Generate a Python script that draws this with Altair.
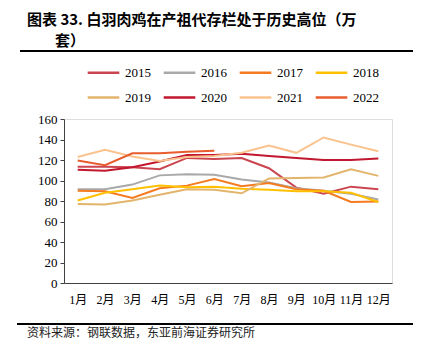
import altair as alt
import pandas as pd

months = ["1月", "2月", "3月", "4月", "5月", "6月", "7月", "8月", "9月", "10月", "11月", "12月"]
years = ["2015", "2016", "2017", "2018", "2019", "2020", "2021", "2022"]
v2015 = [113.5, 113.5, 113, 111, 122, 121, 122, 112, 93, 87, 94, 91.5]
v2016 = [91.5, 91.5, 96, 105, 106, 105.5, 101, 98, 92.5, 90, 87, 81.5]
v2017 = [90, 89.5, 83, 92.5, 95, 101.5, 94.5, 97.5, 91.5, 90, 79, 79.5]
v2018 = [80.5, 88, 91.5, 95, 93.5, 94, 92, 91, 89.5, 89.5, 88, 79]
v2019 = [77, 76.5, 80.5, 86, 91.5, 91, 87.5, 102, 102.5, 103, 111, 104.5]
v2020 = [110.5, 109.5, 113, 118.5, 125, 125, 126, 124, 122, 120, 120, 121.5]
v2021 = [123, 130, 123.5, 119, 123, 124, 127, 134, 127, 142, 135, 128.5]
v2022 = [119.5, 115, 126.5, 126.5, 128, 129]
colors = ["#CB4550", "#A9A9A9", "#F47B20", "#FFC000", "#E3B56C", "#C1172F", "#FAC38E", "#E85C2E"]
title_line1 = "图表 33. 白羽肉鸡在产祖代存栏处于历史高位（万"
title_line2 = "套）"
source_text = "资料来源：钢联数据，东亚前海证券研究所"

series = [v2015, v2016, v2017, v2018, v2019, v2020, v2021, v2022]
rows = []
for y, vals in zip(years, series):
    for m, v in zip(months, vals):
        rows.append({"month": m, "year": y, "value": v})
df = pd.DataFrame(rows)

SERIF = "Liberation Serif, Noto Sans CJK SC"
CJK = "Noto Sans CJK SC"

lines = alt.Chart(df).mark_line(strokeWidth=2).encode(
    x=alt.X("month:O", sort=months,
            scale=alt.Scale(type="point", padding=0.5),
            axis=alt.Axis(title=None, labelAngle=0, ticks=False, domainColor="#404040",
                          labelFont=SERIF, labelFontSize=12, labelColor="#000000",
                          labelPadding=11)),
    y=alt.Y("value:Q", scale=alt.Scale(domain=[0, 160]),
            axis=alt.Axis(title=None, values=[0, 20, 40, 60, 80, 100, 120, 140, 160],
                          grid=False, tickSize=4, tickColor="#404040", domainColor="#404040",
                          labelFont=SERIF, labelFontSize=13, labelColor="#000000",
                          labelPadding=3)),
    color=alt.Color("year:N", scale=alt.Scale(domain=years, range=colors),
                    legend=alt.Legend(title=None, orient="none", legendX=22, legendY=-64,
                                      direction="horizontal", columns=4,
                                      symbolType="stroke", symbolSize=1000,
                                      symbolStrokeWidth=2.5, labelFont=SERIF,
                                      labelFontSize=13, labelColor="#000000",
                                      labelOffset=4, columnPadding=7, rowPadding=-17)),
    detail="year:N",
)

title1 = alt.Chart(pd.DataFrame({"t": [title_line1]})).mark_text(
    align="left", baseline="middle", font=CJK, fontSize=15, fontWeight="bold", color="#000000"
).encode(text="t:N", x=alt.value(-37), y=alt.value(-99.5))

title2 = alt.Chart(pd.DataFrame({"t": [title_line2]})).mark_text(
    align="left", baseline="middle", font=CJK, fontSize=15, fontWeight="bold", color="#000000"
).encode(text="t:N", x=alt.value(-9), y=alt.value(-78))

footer = alt.Chart(pd.DataFrame({"t": [source_text]})).mark_text(
    align="left", baseline="middle", font=CJK, fontSize=12, color="#222222"
).encode(text="t:N", x=alt.value(-37), y=alt.value(214))

rule_top = alt.Chart(pd.DataFrame({"a": [0]})).mark_rule(color="#000000", strokeWidth=2).encode(
    x=alt.value(-44), x2=alt.value(354), y=alt.value(-68))
rule_bot = alt.Chart(pd.DataFrame({"a": [0]})).mark_rule(color="#000000", strokeWidth=2).encode(
    x=alt.value(-47), x2=alt.value(354), y=alt.value(205))

chart = alt.layer(lines, rule_top, rule_bot, title1, title2, footer).properties(
    width=328, height=164,
    autosize=alt.AutoSizeParams(type="none"),
    padding={"left": 56, "top": 111, "right": 21, "bottom": 66},
).configure_view(stroke=None).configure(background="white")

chart.save("out.html", embed_options={"renderer": "svg", "actions": False})
